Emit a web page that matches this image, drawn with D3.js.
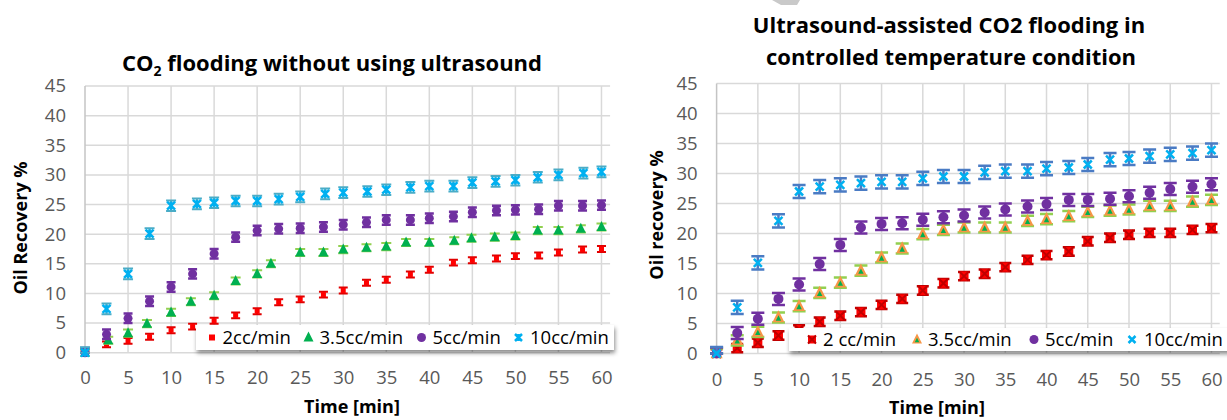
<!DOCTYPE html>
<html>
<head>
<meta charset="utf-8">
<script src="https://cdn.jsdelivr.net/npm/d3@7"></script>
<style>
  body { margin: 0; background: #fff; }
  svg text { font-family: "Open Sans", sans-serif; }
</style>
</head>
<body>
<svg id="chart" width="1227" height="420"></svg>
<script>
// ---- data ----
const xTickValues = [0, 5, 10, 15, 20, 25, 30, 35, 40, 45, 50, 55, 60];
const yTickValues = [0, 5, 10, 15, 20, 25, 30, 35, 40, 45];
const legendNamesLeft = ["2cc/min", "3.5cc/min", "5cc/min", "10cc/min"];
const legendNamesRight = ["2 cc/min", "3.5cc/min", "5cc/min", "10cc/min"];

// left panel: CO2 flooding without ultrasound
const leftTimes = [0, 2.5, 5, 7.5, 10, 12.5, 15, 17.5, 20, 22.5, 25, 27.7, 30, 32.7, 35, 37.8, 40, 42.8, 45, 47.8, 50, 52.7, 55, 57.8, 60];
const leftTimesGreen = [0, 2.7, 5, 7.2, 10, 12.3, 15, 17.5, 20, 21.6, 25, 27.7, 30, 32.7, 35, 37.3, 40, 42.9, 44.9, 47.6, 50, 52.6, 55, 57.6, 60];
const leftTimesCyan = [0, 2.5, 5, 7.5, 10, 13, 15, 17.5, 20, 22.5, 25, 27.9, 30, 32.8, 35, 37.8, 40, 42.8, 45, 47.7, 50, 52.6, 55, 57.9, 60];
const left2cc = [0, 1.4, 2.0, 2.7, 3.8, 4.4, 5.4, 6.3, 7.0, 8.5, 9.0, 9.8, 10.5, 11.8, 12.3, 13.2, 14.0, 15.2, 15.6, 15.9, 16.3, 16.4, 16.9, 17.4, 17.5];
const left35cc = [0, 2.1, 3.3, 4.9, 6.8, 8.6, 9.6, 12.1, 13.3, 15.0, 16.9, 16.9, 17.4, 17.7, 17.9, 18.6, 18.6, 18.9, 19.3, 19.5, 19.7, 20.6, 20.6, 20.9, 21.2];
const left5cc = [0, 3.1, 5.8, 8.7, 11.1, 13.3, 16.7, 19.5, 20.6, 20.9, 21.0, 21.2, 21.6, 22.0, 22.4, 22.4, 22.7, 23.0, 23.7, 24.0, 24.1, 24.2, 24.8, 24.8, 24.9];
const left10cc = [0, 7.4, 13.3, 20.1, 24.8, 25.1, 25.3, 25.6, 25.6, 25.9, 26.3, 26.8, 27.0, 27.2, 27.5, 27.9, 28.1, 28.1, 28.7, 28.9, 29.1, 29.6, 30.0, 30.3, 30.5];
const leftErr = [0.5, 0.6, 0.8, 0.9];

// right panel: ultrasound-assisted, controlled temperature
const rightTimes = [0, 2.5, 5, 7.5, 10, 12.5, 15, 17.5, 20, 22.5, 25, 27.5, 30, 32.5, 35, 37.7, 40, 42.7, 45, 47.7, 50, 52.5, 55, 57.7, 60];
const right2cc = [0, 0.9, 1.8, 3.0, 4.0, 5.3, 6.3, 6.9, 8.1, 9.1, 10.5, 11.7, 12.9, 13.3, 14.4, 15.6, 16.4, 17.0, 18.7, 19.3, 19.8, 20.1, 20.1, 20.6, 20.9];
const right35cc = [0, 2.2, 3.6, 6.0, 7.9, 10.1, 11.8, 13.8, 16.0, 17.5, 19.9, 20.6, 21.0, 21.0, 21.0, 22.1, 22.4, 22.9, 23.6, 23.8, 24.0, 24.6, 24.6, 25.3, 25.6];
const right5cc = [0, 3.4, 5.8, 9.1, 11.5, 14.9, 18.1, 21.0, 21.6, 21.7, 22.3, 22.7, 23.0, 23.5, 24.0, 24.5, 24.9, 25.6, 25.6, 25.8, 26.2, 26.8, 27.4, 27.8, 28.2];
const right10cc = [0, 7.7, 15.1, 22.1, 27.0, 27.8, 28.1, 28.4, 28.6, 28.6, 29.2, 29.5, 29.5, 30.2, 30.4, 30.4, 30.8, 31.0, 31.5, 32.3, 32.5, 32.9, 33.2, 33.4, 33.9];
const rightErr = [0.7, 0.85, 1.0, 1.1];

const svg = d3.select("#chart");

svg.append("defs")
  .append("filter")
  .attr("id", "legendShadow")
  .attr("x", "-5%").attr("y", "-40%")
  .attr("width", "115%").attr("height", "200%")
  .append("feDropShadow")
  .attr("dx", 1).attr("dy", 3)
  .attr("stdDeviation", 2)
  .attr("flood-color", "#000")
  .attr("flood-opacity", 0.45);

// draws one marker of a given kind centred at (cx, cy)
function drawMarker(g, kind, cx, cy, s) {
  const m = g.append("g").attr("transform", `translate(${cx},${cy})`);
  if (kind === "square") {
    m.append("rect").attr("x", -s / 2).attr("y", -s / 2).attr("width", s).attr("height", s).attr("fill", "#ff0000");
  } else if (kind === "squareX") {
    m.append("rect").attr("x", -s / 2).attr("y", -s / 2).attr("width", s).attr("height", s).attr("fill", "#ff0000");
    m.append("path").attr("d", `M${-s / 2},${-s / 2}L${s / 2},${s / 2}M${s / 2},${-s / 2}L${-s / 2},${s / 2}`)
      .attr("stroke", "#c00000").attr("stroke-width", 2);
  } else if (kind === "triangle" || kind === "triangle2") {
    const tri = (k) => `M0,${-k * 0.6}L${k / 2},${k * 0.4}L${-k / 2},${k * 0.4}Z`;
    m.append("path").attr("d", tri(s)).attr("fill", kind === "triangle" ? "#00b050" : "#f79646");
    if (kind === "triangle2") m.append("path").attr("d", tri(s * 0.45)).attr("transform", "translate(0,1)").attr("fill", "#00b050");
  } else if (kind === "circle") {
    m.append("circle").attr("r", s / 2).attr("fill", "#7030a0");
  } else if (kind === "star" || kind === "x") {
    const h = s / 2;
    let d = `M${-h},${-h}L${h},${h}M${h},${-h}L${-h},${h}`;
    if (kind === "star") d += `M0,${-h}L0,${h}`;
    m.append("path").attr("d", d).attr("stroke", "#00b0f0").attr("stroke-width", 2.5).attr("fill", "none");
  }
}

function drawPanel(cfg) {
  const g = svg.append("g");
  const x = d3.scaleLinear().domain([0, 61]).range(cfg.xRange);
  const y = d3.scaleLinear().domain([0, 45]).range(cfg.yRange);

  // gridlines
  g.append("g").selectAll("line").data(yTickValues).join("line")
    .attr("x1", x(0)).attr("x2", x(61))
    .attr("y1", (d) => y(d)).attr("y2", (d) => y(d))
    .attr("stroke", "#d9d9d9").attr("stroke-width", 1.5);
  g.append("g").selectAll("line").data(xTickValues).join("line")
    .attr("x1", (d) => x(d)).attr("x2", (d) => x(d))
    .attr("y1", y(0)).attr("y2", y(45))
    .attr("stroke", (d) => (d === 0 ? "#c4c4c4" : "#d9d9d9")).attr("stroke-width", 1.5);

  // tick labels
  g.append("g").attr("transform", `translate(0,${y(0)})`)
    .call(d3.axisBottom(x).tickValues(xTickValues).tickSize(0).tickPadding(cfg.xPad))
    .call((a) => a.select(".domain").remove())
    .selectAll("text").attr("font-size", 18.5).attr("fill", "#595959").attr("font-family", "Open Sans");
  g.append("g").attr("transform", `translate(${x(0)},0)`)
    .call(d3.axisLeft(y).tickValues(yTickValues).tickSize(0).tickPadding(cfg.yPad))
    .call((a) => a.select(".domain").remove())
    .selectAll("text").attr("font-size", 18.5).attr("fill", "#595959").attr("font-family", "Open Sans");

  // series: error bars then markers
  cfg.series.forEach((s) => {
    const sg = g.append("g");
    const pts = s.t.map((t, i) => ({ t: t, v: s.v[i] }));
    pts.forEach((p) => {
      const cx = x(p.t);
      const lo = y(Math.max(0, p.v - s.err));
      const hi = y(p.v + s.err);
      const cw = s.cap / 2;
      sg.append("path")
        .attr("d", `M${cx},${lo}L${cx},${hi}M${cx - cw},${lo}L${cx + cw},${lo}M${cx - cw},${hi}L${cx + cw},${hi}`)
        .attr("stroke", s.errColor).attr("stroke-width", s.errWidth).attr("fill", "none");
      drawMarker(sg, s.marker, cx, y(p.v), s.size);
    });
  });

  // legend
  const lg = g.append("g");
  lg.append("rect")
    .attr("x", cfg.legend.x).attr("y", cfg.legend.y)
    .attr("width", cfg.legend.w).attr("height", cfg.legend.h)
    .attr("fill", "#fff").attr("filter", "url(#legendShadow)");
  const cy = cfg.legend.y + cfg.legend.h / 2;
  cfg.series.forEach((s, i) => {
    drawMarker(lg, s.marker, cfg.legend.markerX[i], cy, s.legendSize);
    lg.append("text")
      .attr("x", cfg.legend.textX[i]).attr("y", cy)
      .attr("dy", "0.36em")
      .attr("font-size", 18.5).attr("fill", "#000")
      .text(cfg.names[i]);
  });

  // titles
  const title = g.append("text")
    .attr("x", cfg.titleX).attr("text-anchor", "middle")
    .attr("font-weight", "bold").attr("font-size", 22).attr("fill", "#000");
  cfg.title(title);

  g.append("text")
    .attr("transform", `translate(${cfg.yTitleX},${cfg.yTitleY}) rotate(-90)`)
    .attr("text-anchor", "middle").attr("dy", "0.35em")
    .attr("font-weight", "bold").attr("font-size", 18).attr("fill", "#000")
    .text(cfg.yTitle);
  g.append("text")
    .attr("x", cfg.xTitleX).attr("y", cfg.xTitleY)
    .attr("text-anchor", "middle").attr("dy", "0.35em")
    .attr("font-weight", "bold").attr("font-size", 18).attr("fill", "#000")
    .text("Time [min]");
}

drawPanel({
  xRange: [85, 85 + 61 * 8.608],
  yRange: [352.7, 86],
  xPad: 18,
  yPad: 19,
  names: legendNamesLeft,
  series: [
    { t: leftTimes, v: left2cc, err: leftErr[0], marker: "square", size: 5, legendSize: 6, errColor: "#e00000", errWidth: 2, cap: 9 },
    { t: leftTimesGreen, v: left35cc, err: leftErr[1], marker: "triangle", size: 10, legendSize: 10, errColor: "#92d050", errWidth: 2, cap: 10 },
    { t: leftTimes, v: left5cc, err: leftErr[2], marker: "circle", size: 9, legendSize: 9, errColor: "#7030a0", errWidth: 2.5, cap: 9 },
    { t: leftTimesCyan, v: left10cc, err: leftErr[3], marker: "star", size: 8, legendSize: 7, errColor: "#4bacc6", errWidth: 2, cap: 10 }
  ],
  legend: { x: 196, y: 325, w: 418, h: 25, markerX: [212, 308.5, 421.5, 518.5], textX: [222.5, 319.5, 432.5, 530] },
  title: (t) => {
    t.attr("y", 70.5);
    t.append("tspan").text("CO");
    t.append("tspan").attr("font-size", 14).attr("dy", 5).text("2");
    t.append("tspan").attr("dy", -5).text(" flooding without using ultrasound");
  },
  titleX: 332,
  yTitle: "Oil Recovery %",
  yTitleX: 21,
  yTitleY: 228,
  xTitleX: 352,
  xTitleY: 407
});

drawPanel({
  xRange: [716.6, 716.6 + 61 * 8.248],
  yRange: [353.5, 83.5],
  xPad: 19,
  yPad: 19,
  names: legendNamesRight,
  series: [
    { t: rightTimes, v: right2cc, err: rightErr[0], marker: "squareX", size: 9, legendSize: 8, errColor: "#c00000", errWidth: 2.5, cap: 12 },
    { t: rightTimes, v: right35cc, err: rightErr[1], marker: "triangle2", size: 12, legendSize: 10, errColor: "#92d050", errWidth: 2.5, cap: 13 },
    { t: rightTimes, v: right5cc, err: rightErr[2], marker: "circle", size: 10, legendSize: 9, errColor: "#7030a0", errWidth: 2.5, cap: 13 },
    { t: rightTimes, v: right10cc, err: rightErr[3], marker: "x", size: 8, legendSize: 7, errColor: "#4a7bc4", errWidth: 2.5, cap: 13 }
  ],
  legend: { x: 789, y: 328, w: 450, h: 23, markerX: [812, 917, 1034, 1132], textX: [823, 928, 1045, 1144] },
  title: (t) => {
    t.append("tspan").attr("x", 949).attr("y", 33).text("Ultrasound-assisted CO2 flooding in");
    t.append("tspan").attr("x", 951).attr("y", 65).text("controlled temperature condition");
  },
  titleX: 949,
  yTitle: "Oil recovery %",
  yTitleX: 657,
  yTitleY: 215,
  xTitleX: 937,
  xTitleY: 408
});

// small grey fragment at the top edge of the right panel
svg.append("path")
  .attr("d", "M772,0L800,0L797,5L781,5Z")
  .attr("fill", "#c9c9c9");
</script>
</body>
</html>
